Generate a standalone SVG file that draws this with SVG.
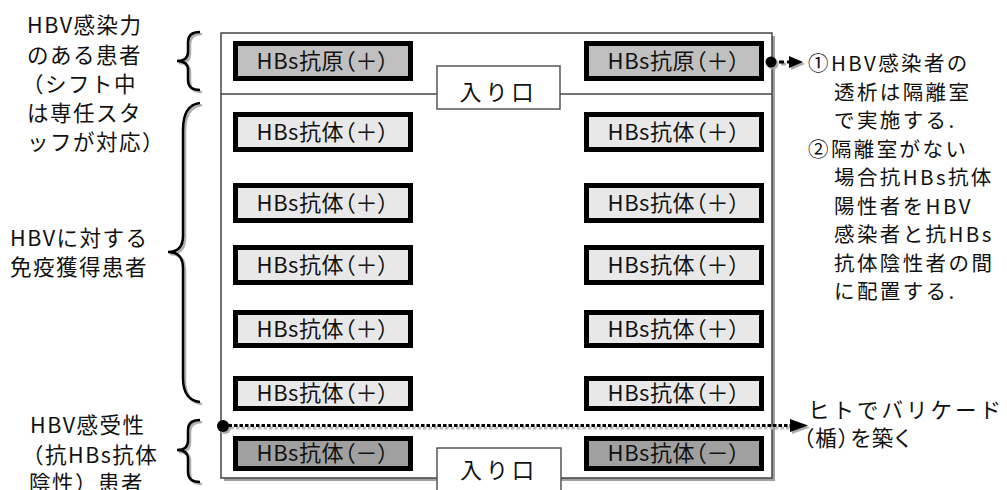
<svg xmlns="http://www.w3.org/2000/svg" width="1007" height="490" viewBox="0 0 1007 490">
<style>
text{font-family:"Noto Sans CJK JP","Noto Sans",sans-serif;fill:#111;}
.lbl{font-size:21.5px;letter-spacing:1.5px;}
.rl{font-size:20.5px;letter-spacing:2.4px;}
.bx{font-size:22px;text-anchor:middle;letter-spacing:0.5px;font-feature-settings:"palt";}
.nb{stroke:#000;stroke-width:5;}
.ag{fill:#c0c0c0;}
.ap{fill:#e8e8e8;}
.an{fill:#a0a0a0;}
.br{fill:none;stroke:#000;stroke-width:2.5;}
.brs{fill:none;stroke:#b0b0b0;stroke-width:2.5;}
.ent{fill:#fff;stroke:#555;stroke-width:1.5;}
</style>
<rect width="1007" height="490" fill="#fff"/>
<g id="room">
<rect x="224" y="36" width="551" height="445" fill="#a0a0a0"/>
<rect x="221" y="33" width="551" height="445" fill="#fff" stroke="#444" stroke-width="1.5"/>
<line x1="221" y1="94" x2="772" y2="94" stroke="#444" stroke-width="1.5"/>
</g>
<g id="entrance-top">
<rect class="ent" x="437" y="66" width="123" height="43"/>
<text x="498.5" y="100" style="font-size:22px;text-anchor:middle;letter-spacing:4px">入り口</text>
</g>
<g id="entrance-bottom">
<rect class="ent" x="437" y="448" width="124" height="50"/>
<text x="499" y="478" style="font-size:22px;text-anchor:middle;letter-spacing:4px">入り口</text>
</g>
<g id="node-l0"><rect class="nb ag" x="235.5" y="43.5" width="175" height="35"/><text class="bx" x="323" y="69">HBs抗原（＋）</text></g>
<g id="node-r0"><rect class="nb ag" x="586.5" y="43.5" width="175" height="35"/><text class="bx" x="674" y="69">HBs抗原（＋）</text></g>
<g id="node-l1"><rect class="nb ap" x="235.5" y="114.5" width="175" height="35"/><text class="bx" x="323" y="140">HBs抗体（＋）</text></g>
<g id="node-r1"><rect class="nb ap" x="586.5" y="114.5" width="175" height="35"/><text class="bx" x="674" y="140">HBs抗体（＋）</text></g>
<g id="node-l2"><rect class="nb ap" x="235.5" y="185.5" width="175" height="35"/><text class="bx" x="323" y="211">HBs抗体（＋）</text></g>
<g id="node-r2"><rect class="nb ap" x="586.5" y="185.5" width="175" height="35"/><text class="bx" x="674" y="211">HBs抗体（＋）</text></g>
<g id="node-l3"><rect class="nb ap" x="235.5" y="247.5" width="175" height="35"/><text class="bx" x="323" y="273">HBs抗体（＋）</text></g>
<g id="node-r3"><rect class="nb ap" x="586.5" y="247.5" width="175" height="35"/><text class="bx" x="674" y="273">HBs抗体（＋）</text></g>
<g id="node-l4"><rect class="nb ap" x="235.5" y="312.5" width="175" height="33"/><text class="bx" x="323" y="337">HBs抗体（＋）</text></g>
<g id="node-r4"><rect class="nb ap" x="586.5" y="312.5" width="175" height="33"/><text class="bx" x="674" y="337">HBs抗体（＋）</text></g>
<g id="node-l5"><rect class="nb ap" x="235.5" y="378.5" width="175" height="30"/><text class="bx" x="323" y="401">HBs抗体（＋）</text></g>
<g id="node-r5"><rect class="nb ap" x="586.5" y="378.5" width="175" height="30"/><text class="bx" x="674" y="401">HBs抗体（＋）</text></g>
<g id="node-l6"><rect class="nb an" x="235.5" y="438.5" width="175" height="30"/><text class="bx" x="323" y="461">HBs抗体（－）</text></g>
<g id="node-r6"><rect class="nb an" x="586.5" y="438.5" width="175" height="30"/><text class="bx" x="674" y="461">HBs抗体（－）</text></g>
<g id="braces">
<path class="brs" d="M202,34 Q190,34 190,44 L190,54 Q190,63 179,63 Q190,63 190,72 L190,82 Q190,92 202,92"/>
<path class="br" d="M200,32 Q188,32 188,42 L188,52 Q188,61 177,61 Q188,61 188,70 L188,80 Q188,90 200,90"/>
<path class="brs" d="M202,105 Q185,107 185,132 L185,238 Q185,254 170,254 Q185,254 185,270 L185,380 Q185,402 202,404"/>
<path class="br" d="M200,103 Q183,105 183,130 L183,236 Q183,252 168,252 Q183,252 183,268 L183,378 Q183,400 200,402"/>
<path class="brs" d="M202,422 Q190,422 190,432 L190,443 Q190,452 179,452 Q190,452 190,461 L190,474 Q190,484 202,484"/>
<path class="br" d="M200,420 Q188,420 188,430 L188,441 Q188,450 177,450 Q188,450 188,459 L188,472 Q188,482 200,482"/>
</g>
<g id="labels-left">
<text class="lbl" x="27" y="33">HBV感染力</text>
<text class="lbl" x="27" y="63">のある患者</text>
<text class="lbl" x="22" y="92">（シフト中</text>
<text class="lbl" x="27" y="121">は専任スタ</text>
<text class="lbl" x="27" y="150">ッフが対応）</text>
<text class="lbl" x="10" y="246">HBVに対する</text>
<text class="lbl" x="10" y="275">免疫獲得患者</text>
<text class="lbl" x="30" y="433">HBV感受性</text>
<text class="lbl" x="22" y="463">（抗HBs抗体</text>
<text class="lbl" x="29" y="491">陰性）患者</text>
</g>
<g id="labels-right">
<text class="rl" x="808" y="71">①HBV感染者の</text>
<text class="rl" x="834" y="99.5">透析は隔離室</text>
<text class="rl" x="834" y="128">で実施する.</text>
<text class="rl" x="808" y="156.5">②隔離室がない</text>
<text class="rl" x="834" y="185">場合抗HBs抗体</text>
<text class="rl" x="834" y="213.5">陽性者をHBV</text>
<text class="rl" x="834" y="242">感染者と抗HBs</text>
<text class="rl" x="834" y="270.5">抗体陰性者の間</text>
<text class="rl" x="834" y="299">に配置する.</text>
<text class="lbl" x="808" y="418" style="letter-spacing:3px">ヒトでバリケード</text>
<text class="lbl" x="803" y="446" style="font-feature-settings:'palt'">（楯）を築く</text>
</g>
<g id="connectors">
<line x1="773" y1="64" x2="792" y2="64" stroke="#aaa" stroke-width="3" stroke-dasharray="5 3"/>
<circle cx="773" cy="64" r="5.5" fill="#aaa"/>
<polygon points="791,58 805,64 791,70" fill="#aaa"/>
<line x1="771" y1="62" x2="790" y2="62" stroke="#000" stroke-width="3" stroke-dasharray="5 3"/>
<circle cx="771" cy="62" r="5.5" fill="#000"/>
<polygon points="789,56 803,62 789,68" fill="#000"/>
<line x1="225" y1="428" x2="792" y2="428" stroke="#bbb" stroke-width="3" stroke-dasharray="3.5 2"/>
<circle cx="225" cy="428" r="6" fill="#aaa"/>
<polygon points="792,421 810,427.5 792,434" fill="#aaa"/>
<line x1="223" y1="425.5" x2="791" y2="425.5" stroke="#000" stroke-width="3" stroke-dasharray="3.5 2"/>
<circle cx="223" cy="426" r="6" fill="#000"/>
<polygon points="790,419 808,425.5 790,432" fill="#000"/>
</g>
</svg>
